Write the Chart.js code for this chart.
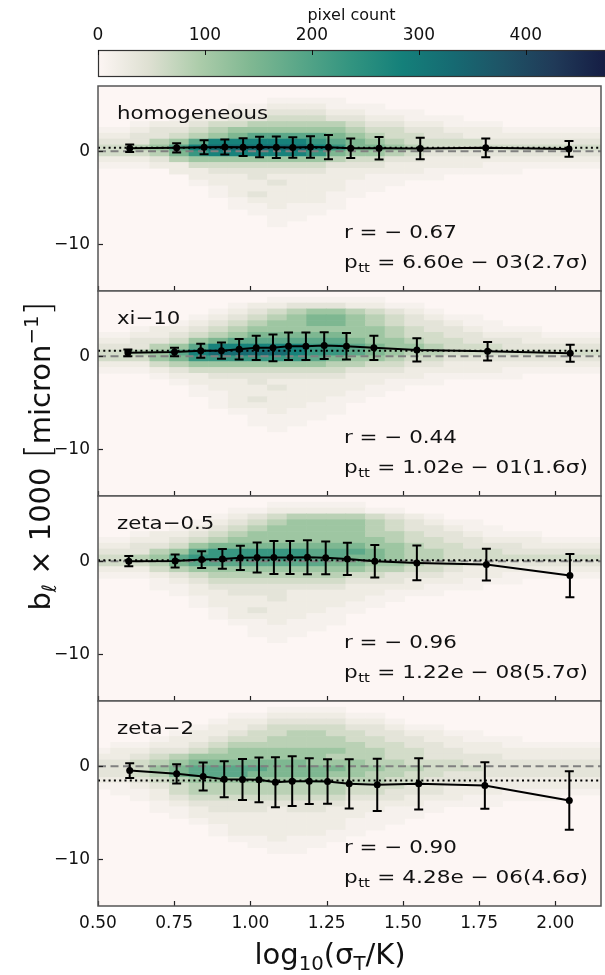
<!DOCTYPE html>
<html><head><meta charset="utf-8">
<script src="https://cdn.jsdelivr.net/npm/chart.js@4.4.1/dist/chart.umd.min.js"></script>
<style>
html,body{margin:0;padding:0;background:#fff;}
body{width:605px;height:975px;position:relative;overflow:hidden;font-family:"DejaVu Sans",sans-serif;color:#111;}
canvas{position:absolute;left:0;}
.ttl{position:absolute;white-space:nowrap;text-align:center;line-height:1;font-size:29px;}
.ttl sub{font-size:0.68em;vertical-align:-0.28em;line-height:0;}
.ttl sup{font-size:0.68em;vertical-align:0.62em;line-height:0;}
.br{font-size:36px;font-weight:200;}
</style></head><body>
<canvas id="cb" width="605" height="85" style="top:0px"></canvas>
<canvas id="p0" width="605" height="213" style="top:82px"></canvas>
<canvas id="p1" width="605" height="213" style="top:287px"></canvas>
<canvas id="p2" width="605" height="213" style="top:492px"></canvas>
<canvas id="p3" width="605" height="239" style="top:697px"></canvas>
<div class="ttl" style="left:130px;width:400px;top:940px;">log<sub>10</sub>(σ<sub>T</sub>/K)</div>
<div class="ttl" style="left:-210px;width:500px;top:436px;height:40px;transform:rotate(-90deg);">b<sub>ℓ</sub> × 1000 <span class="br">[</span>micron<sup>−1</sup><span class="br">]</span></div>
<script>
// ---------------- data ----------------
const panelNames = ['homogeneous', 'xi\u221210', 'zeta\u22120.5', 'zeta\u22122'];
const rValues = ['\u22120.67', '\u22120.44', '\u22120.96', '\u22120.90'];
const pValues = ['6.60e \u2212 03', '1.02e \u2212 01', '1.22e \u2212 08', '4.28e \u2212 06'];
const sigmaValues = ['2.7', '1.6', '5.7', '4.6'];
const meanLevels = [0.36, 0.6, 0.1, -1.54];

const xHomog = [0.604, 0.758, 0.848, 0.916, 0.976, 1.030, 1.085, 1.139, 1.197, 1.256, 1.329, 1.422, 1.557, 1.772, 2.045];
const yHomog = [0.32, 0.36, 0.43, 0.46, 0.43, 0.46, 0.43, 0.39, 0.46, 0.43, 0.32, 0.32, 0.29, 0.36, 0.25];
const eHomog = [0.4, 0.5, 0.75, 0.8, 0.95, 1.1, 1.15, 1.1, 1.15, 1.3, 1.05, 1.2, 1.15, 1.0, 0.85];

const xXi10 = [0.598, 0.751, 0.837, 0.905, 0.963, 1.019, 1.074, 1.125, 1.182, 1.242, 1.315, 1.405, 1.546, 1.778, 2.049];
const yXi10 = [0.36, 0.46, 0.6, 0.6, 0.75, 0.9, 0.9, 1.07, 1.07, 1.14, 1.07, 0.9, 0.68, 0.54, 0.32];
const eXi10 = [0.35, 0.45, 0.75, 0.86, 1.1, 1.3, 1.43, 1.48, 1.48, 1.43, 1.43, 1.3, 1.25, 1.0, 0.9];

const xZeta05 = [0.601, 0.753, 0.840, 0.908, 0.967, 1.022, 1.077, 1.130, 1.187, 1.247, 1.318, 1.408, 1.546, 1.774, 2.048];
const yZeta05 = [0.0, 0.03, 0.18, 0.25, 0.36, 0.4, 0.4, 0.4, 0.43, 0.36, 0.25, 0.0, -0.18, -0.36, -1.54];
const eZeta05 = [0.55, 0.7, 0.9, 1.07, 1.3, 1.6, 1.78, 1.78, 1.82, 1.75, 1.73, 1.75, 1.86, 1.7, 2.32];

const xZeta2 = [0.604, 0.758, 0.845, 0.914, 0.974, 1.028, 1.082, 1.137, 1.193, 1.253, 1.324, 1.416, 1.552, 1.769, 2.046];
const yZeta2 = [-0.46, -0.82, -1.1, -1.39, -1.43, -1.46, -1.71, -1.6, -1.6, -1.64, -1.89, -2.0, -1.89, -2.07, -3.68];
const eZeta2 = [0.79, 1.04, 1.5, 1.93, 2.2, 2.4, 2.68, 2.68, 2.46, 2.4, 2.64, 2.8, 2.75, 2.5, 3.14];

const xTicks = [0.5, 0.75, 1.0, 1.25, 1.5, 1.75, 2.0];
const yTicks = [-10, 0];
const cbTicks = [0, 100, 200, 300, 400];
const cbMax = 474;

// 2D histogram: 26 columns from x=0.476 (width 0.0643), 35 rows from y=7 down to y=-15
const histX0 = 0.476, histDX = 0.0643, histNX = 26;
const histYTop = 7, histYBot = -15, histNY = 35;
// estimated pixel count per level code
const levelCounts = {'0':0,'1':10,'2':22,'3':38,'4':58,'5':82,'6':110,'7':145,'8':185,'9':230,'a':280,'b':330,'c':380};

const gridHomog = [
"00000000000000000000000000",
"00000000000000000000000000",
"00000000011110000000000000",
"00000001122211100000000000",
"00000012233322111000000000",
"00001223344433221110000000",
"00122344555554332211100000",
"11233456666665443322211111",
"22334567888876544332222222",
"333568aaaaa987654444333333",
"44568abbbbba97765444444444",
"444579aaaaa976654333333333",
"22235666666654433222222222",
"11122444444433322222111111",
"00002233333322222111110000",
"00000222322222111100000000",
"00000122232221110000000000",
"00000012222221100000000000",
"00000012322211000000000000",
"00000001222210000000000000",
"00000001121110000000000000",
"00000000111100000000000000",
"00000000011000000000000000",
"00000000010000000000000000"
];
const gridXi10 = [
"00000000000000000000000000",
"00000000011111100000000000",
"00000001223332211000000000",
"00000012345665432100000000",
"00000123456776543211000000",
"00001234566776543321100000",
"00122345666666654332111000",
"11223456777776654433222111",
"22334678888887665443332222",
"333568aaaaa998766544433333",
"44568abbbba998765544444444",
"44467999999876654433333333",
"22245666666655443322222222",
"11123444444443332222211111",
"00012233333332222111110000",
"00001222322222211100000000",
"00000122232222110000000000",
"00000112222221100000000000",
"00000012322211000000000000",
"00000012222110000000000000",
"00000001121110000000000000",
"00000000111100000000000000",
"00000000111000000000000000",
"00000000010000000000000000"
];
const gridZeta05 = [
"00000000000000000000000000",
"00000000011111000000000000",
"00000001122222110000000000",
"00000012345555432100000000",
"00000123456666543211000000",
"00001234566666543321100000",
"00122345666666554332111000",
"11223456666666654433222111",
"22334677777777665443332222",
"33356899999888765544433333",
"44568999999887765544444444",
"44457888888877665443333333",
"22245666666666554432222222",
"11123455555554433322211111",
"00012344444443332221110000",
"00011233333332222111000000",
"00001223332222211100000000",
"00000122232222110000000000",
"00000122222221100000000000",
"00000012322211000000000000",
"00000012222110000000000000",
"00000001121110000000000000",
"00000000111100000000000000",
"00000000111000000000000000",
"00000000010000000000000000"
];
const gridZeta2 = [
"00000000000000000000000000",
"00000000011110000000000000",
"00000001122221100000000000",
"00000012233332210000000000",
"00000122344443321100000000",
"00001223445544332211000000",
"00012234455554433221110000",
"01122345555555443322211111",
"12233456666665544332222222",
"22345666666655544333322222",
"33456777777666554443333333",
"33467888877776655444333333",
"33457888777766554433333333",
"22345666666655544333222222",
"11234555555554443322222222",
"01124555555554433322211111",
"00123444444443332221111100",
"00012333333332222111100000",
"00011233323322211100000000",
"00001222222222111000000000",
"00000122222221110000000000",
"00000012222221100000000000",
"00000012222211000000000000",
"00000001121110000000000000",
"00000000111100000000000000",
"00000000011000000000000000"
];

const panelX = [xHomog, xXi10, xZeta05, xZeta2];
const panelY = [yHomog, yXi10, yZeta05, yZeta2];
const panelE = [eHomog, eXi10, eZeta05, eZeta2];
const panelGrid = [gridHomog, gridXi10, gridZeta05, gridZeta2];

// ---------------- style ----------------
const FONT = '"DejaVu Sans", sans-serif';
const xMin = 0.5, xMax = 2.15, yMin = -15, yMax = 7;
const cmapStops = [
 [0.000, [253,246,244]], [0.100, [222,224,210]], [0.200, [172,204,170]],
 [0.300, [128,184,146]], [0.400, [88,166,136]],  [0.500, [50,148,128]],
 [0.600, [20,128,122]],  [0.700, [22,106,114]],  [0.800, [30,83,102]],
 [0.900, [32,58,88]],    [1.000, [21,29,68]]
];
function cmap(v){
  let t = Math.max(0, Math.min(1, v / cbMax));
  for (let i = 1; i < cmapStops.length; i++) {
    if (t <= cmapStops[i][0]) {
      const [t0,c0] = cmapStops[i-1], [t1,c1] = cmapStops[i];
      const f = (t - t0) / (t1 - t0);
      return 'rgb(' + c0.map((c,k)=>Math.round(c + (c1[k]-c)*f)).join(',') + ')';
    }
  }
  const c = cmapStops[cmapStops.length-1][1];
  return 'rgb(' + c.join(',') + ')';
}
function fmtNum(v){ return v < 0 ? '\u2212' + Math.abs(v) : String(v); }
function sText(ctx, str, x, y, size, sx){
  ctx.save();
  ctx.font = size + 'px ' + FONT;
  ctx.translate(x, y); ctx.scale(sx, 1);
  ctx.fillText(str, 0, 0);
  const w = ctx.measureText(str).width * sx;
  ctx.restore();
  return w;
}

// ---------------- colorbar ----------------
const cbPlugin = {
  id: 'cbPlugin',
  afterDraw(chart){
    const {ctx, chartArea: a, scales: {x}} = chart;
    ctx.save();
    const g = ctx.createLinearGradient(x.getPixelForValue(0), 0, x.getPixelForValue(cbMax), 0);
    for (const [t] of cmapStops) g.addColorStop(t, cmap(t * cbMax));
    ctx.fillStyle = g;
    ctx.fillRect(a.left, a.top, a.right - a.left, a.bottom - a.top);
    ctx.strokeStyle = '#333'; ctx.lineWidth = 1.2;
    ctx.strokeRect(a.left + 0.5, a.top + 0.5, a.right - a.left, a.bottom - a.top - 1);
    ctx.strokeStyle = '#111'; ctx.lineWidth = 1;
    for (const t of x.ticks) {
      const px = Math.round(x.getPixelForValue(t.value)) + 0.5;
      ctx.beginPath(); ctx.moveTo(px, a.top); ctx.lineTo(px, a.top + 5); ctx.stroke();
    }
    ctx.restore();
  }
};
new Chart(document.getElementById('cb'), {
  type: 'scatter', data: {datasets: []},
  options: {
    responsive: false, animation: false, devicePixelRatio: 1,
    layout: {padding: {left: 98, right: 0, top: 0, bottom: 8}},
    plugins: {legend: {display: false}, tooltip: {enabled: false}},
    scales: {
      x: {type: 'linear', position: 'top', min: 0, max: cbMax,
          afterBuildTicks: s => { s.ticks = cbTicks.map(v => ({value: v})); },
          ticks: {font: {family: FONT, size: 17}, color: '#111', padding: 4, maxRotation: 0},
          title: {display: true, text: 'pixel count', font: {family: FONT, size: 16}, color: '#111', padding: {top: 6, bottom: 0}},
          grid: {display: false, drawTicks: false}, border: {display: false},
          afterFit: s => { s.height = 50; s.paddingLeft = 0; s.paddingRight = 0; }},
      y: {display: false, min: 0, max: 1}
    }
  },
  plugins: [cbPlugin]
});

// ---------------- panels ----------------
function makePanel(idx){
  const showX = idx === 3;
  const xs = panelX[idx], ys = panelY[idx], es = panelE[idx], grid = panelGrid[idx];
  const plugin = {
    id: 'panel' + idx,
    beforeDatasetsDraw(chart){
      const {ctx, chartArea: a, scales: {x, y}} = chart;
      ctx.save();
      ctx.beginPath(); ctx.rect(a.left, a.top, a.right - a.left, a.bottom - a.top); ctx.clip();
      ctx.fillStyle = cmap(0);
      ctx.fillRect(a.left, a.top, a.right - a.left, a.bottom - a.top);
      const dy = (histYTop - histYBot) / histNY;
      for (let r = 0; r < grid.length; r++) {
        const row = grid[r];
        for (let c = 0; c < histNX; c++) {
          const ch = row[c] || '0';
          const cnt = levelCounts[ch];
          if (!cnt) continue;
          const x0 = x.getPixelForValue(histX0 + c * histDX);
          const x1 = x.getPixelForValue(histX0 + (c + 1) * histDX);
          const y0 = y.getPixelForValue(histYTop - r * dy);
          const y1 = y.getPixelForValue(histYTop - (r + 1) * dy);
          ctx.fillStyle = cmap(cnt);
          ctx.fillRect(x0, y0, x1 - x0 + 0.6, y1 - y0 + 0.6);
        }
      }
      ctx.restore();
    },
    afterDatasetsDraw(chart){
      const {ctx, chartArea: a, scales: {x, y}} = chart;
      ctx.save();
      ctx.beginPath(); ctx.rect(a.left, a.top, a.right - a.left, a.bottom - a.top); ctx.clip();
      ctx.strokeStyle = '#000'; ctx.lineWidth = 2;
      for (let i = 0; i < xs.length; i++) {
        const px = x.getPixelForValue(xs[i]);
        const pt = y.getPixelForValue(ys[i] + es[i]);
        const pb = y.getPixelForValue(ys[i] - es[i]);
        ctx.beginPath();
        ctx.moveTo(px, pt); ctx.lineTo(px, pb);
        ctx.moveTo(px - 4.5, pt); ctx.lineTo(px + 4.5, pt);
        ctx.moveTo(px - 4.5, pb); ctx.lineTo(px + 4.5, pb);
        ctx.stroke();
      }
      ctx.restore();
    },
    afterDraw(chart){
      const {ctx, chartArea: a, scales: {x, y}} = chart;
      ctx.save();
      // inward ticks
      ctx.strokeStyle = '#222'; ctx.lineWidth = 1.2;
      for (const v of xTicks) {
        const px = Math.round(x.getPixelForValue(v)) + 0.5;
        ctx.beginPath(); ctx.moveTo(px, a.bottom); ctx.lineTo(px, a.bottom - 5); ctx.stroke();
      }
      for (const v of yTicks) {
        const py = Math.round(y.getPixelForValue(v)) + 0.5;
        ctx.beginPath(); ctx.moveTo(a.left, py); ctx.lineTo(a.left + 5, py); ctx.stroke();
      }
      // frame
      ctx.strokeStyle = '#555'; ctx.lineWidth = 1.5;
      ctx.strokeRect(a.left, a.top, a.right - a.left, a.bottom - a.top);
      // texts
      ctx.fillStyle = '#111'; ctx.textBaseline = 'alphabetic';
      sText(ctx, panelNames[idx], 117, a.top + 33, 18.5, 1.15);
      sText(ctx, 'r = \u2212 ' + rValues[idx].replace('\u2212',''), 344, a.top + 152, 18, 1.19);
      let px = 344;
      px += sText(ctx, 'p', px, a.top + 182, 18, 1.2);
      px += sText(ctx, 'tt', px + 0.5, a.top + 186, 12.5, 1.2) + 1;
      sText(ctx, ' = ' + pValues[idx] + '(' + sigmaValues[idx] + '\u03c3)', px, a.top + 182, 18, 1.2);
      ctx.restore();
    }
  };
  new Chart(document.getElementById('p' + idx), {
    type: 'line',
    data: {datasets: [
      {data: xs.map((v, i) => ({x: v, y: ys[i]})), borderColor: '#000', borderWidth: 2,
       pointRadius: 3.5, pointBackgroundColor: '#000', pointBorderWidth: 0, tension: 0, order: 0},
      {data: [{x: xMin, y: meanLevels[idx]}, {x: xMax, y: meanLevels[idx]}], borderColor: '#000',
       borderWidth: 2, borderDash: [2, 3.3], pointRadius: 0, order: 1},
      {data: [{x: xMin, y: 0}, {x: xMax, y: 0}], borderColor: '#808080', borderWidth: 2,
       borderDash: [8, 4.5], pointRadius: 0, order: 2}
    ]},
    options: {
      responsive: false, animation: false, devicePixelRatio: 1,
      layout: {padding: {left: 0, right: 0, top: 4, bottom: 4}},
      plugins: {legend: {display: false}, tooltip: {enabled: false}},
      scales: {
        x: {type: 'linear', min: xMin, max: xMax, display: showX,
            afterBuildTicks: s => { s.ticks = xTicks.map(v => ({value: v})); },
            ticks: {font: {family: FONT, size: 17}, color: '#111', padding: 7, maxRotation: 0,
                    callback: v => v.toFixed(2)},
            grid: {display: false, drawTicks: false}, border: {display: false},
            afterFit: s => { s.height = showX ? 26 : 0; s.paddingLeft = 0; s.paddingRight = 0; }},
        y: {type: 'linear', min: yMin, max: yMax,
            afterBuildTicks: s => { s.ticks = yTicks.map(v => ({value: v})); },
            ticks: {font: {family: FONT, size: 17}, color: '#111', padding: 8, callback: v => fmtNum(v)},
            grid: {display: false, drawTicks: false}, border: {display: false},
            afterFit: s => { s.width = 98; s.paddingTop = 0; s.paddingBottom = 0; }}
      }
    },
    plugins: [plugin]
  });
}
for (let i = 0; i < 4; i++) makePanel(i);
</script>
</body></html>
